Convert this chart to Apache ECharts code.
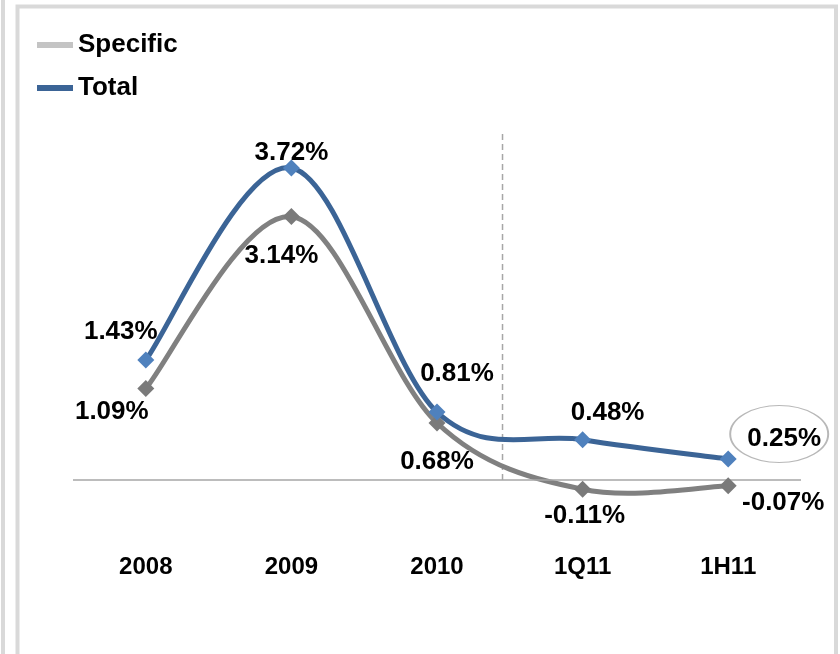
<!DOCTYPE html>
<html>
<head>
<meta charset="utf-8">
<script src="https://cdn.jsdelivr.net/npm/echarts@6/dist/echarts.min.js"></script>
<style>
  html, body { margin: 0; padding: 0; background: #ffffff; }
  #chart { width: 840px; height: 654px; }
</style>
</head>
<body>
<div id="chart"></div>
<script>
// Periods and ratios (%)
const categories = ['2008', '2009', '2010', '1Q11', '1H11'];
const specificValues = [1.09, 3.14, 0.68, -0.11, -0.07];
const totalValues = [1.43, 3.72, 0.81, 0.48, 0.25];

// Divider between annual and 2011 periods: category position and top value
const dividerPosition = 2.45;
const dividerTop = 4.14;

// Label offsets (px) from each marker, kept apart from the values
const specificLabelOffsets = [[-34, 23], [-10, 39], [0, 39], [2, 27], [55, 17]];
const totalLabelOffsets = [[-25, -28], [0, -15], [20, -38], [25, -27], [56, -20]];

const TOTAL_LINE = '#3b6496';
const TOTAL_MARK = '#4f81bd';
const SPEC_LINE = '#808080';
const SPEC_MARK = '#7a7a7a';
const SPEC_LEGEND = '#c4c4c4';
const FONT = "'Liberation Sans', Arial, sans-serif";

function pct(v) { return v.toFixed(2) + '%'; }

function buildData(values, offsets) {
  return values.map(function (v, i) {
    return { value: v, label: { offset: offsets[i] } };
  });
}

// Smoothed curve segment (cardinal spline, tension 1/6) between point i and i+1
function splineRenderer(values, color) {
  return function (params, api) {
    const i = params.dataIndex;
    const n = values.length;
    if (i >= n - 1) return null;
    const pt = function (k) {
      k = Math.max(0, Math.min(n - 1, k));
      return api.coord([k, values[k]]);
    };
    const p0 = pt(i - 1), p1 = pt(i), p2 = pt(i + 1), p3 = pt(i + 2);
    const t = 1 / 6;
    return {
      type: 'bezierCurve',
      shape: {
        x1: p1[0], y1: p1[1],
        x2: p2[0], y2: p2[1],
        cpx1: p1[0] + (p2[0] - p0[0]) * t,
        cpy1: p1[1] + (p2[1] - p0[1]) * t,
        cpx2: p2[0] - (p3[0] - p1[0]) * t,
        cpy2: p2[1] - (p3[1] - p1[1]) * t
      },
      style: { stroke: color, lineWidth: 5, fill: null, lineCap: 'round' },
      silent: true
    };
  };
}

const labelStyle = {
  show: true,
  position: 'inside',
  align: 'center',
  verticalAlign: 'middle',
  fontFamily: FONT,
  fontWeight: 'bold',
  fontSize: 26,
  color: '#000000',
  formatter: function (p) { return pct(p.value); }
};

const chart = echarts.init(document.getElementById('chart'), null, { renderer: 'canvas' });

chart.setOption({
  backgroundColor: '#ffffff',
  animation: false,
  graphic: [
    // panel frame
    { type: 'line', shape: { x1: 3, y1: 0, x2: 3, y2: 654 }, style: { stroke: '#d9d9d9', lineWidth: 4 }, silent: true },
    { type: 'rect', shape: { x: 17.5, y: 6.5, width: 818.5, height: 700 }, style: { fill: null, stroke: '#d9d9d9', lineWidth: 4 }, silent: true }
  ],
  legend: {
    orient: 'vertical',
    left: 32,
    top: 27,
    itemWidth: 36,
    itemHeight: 6,
    itemGap: 17,
    icon: 'rect',
    textStyle: { fontFamily: FONT, fontWeight: 'bold', fontSize: 26, color: '#000000' },
    data: [
      { name: 'Specific', itemStyle: { color: SPEC_LEGEND } },
      { name: 'Total', itemStyle: { color: TOTAL_LINE } }
    ]
  },
  grid: { left: 73, right: 39, top: 102.5, bottom: 102.7 },
  xAxis: {
    type: 'category',
    data: categories,
    boundaryGap: true,
    axisLine: { show: false },
    axisTick: { show: false },
    splitLine: { show: false },
    axisLabel: {
      margin: 4,
      fontFamily: FONT,
      fontWeight: 'bold',
      fontSize: 24,
      color: '#000000'
    }
  },
  yAxis: {
    type: 'value',
    min: -0.85,
    max: 4.5,
    show: false,
    splitLine: { show: false }
  },
  series: [
    {
      name: 'divider',
      type: 'custom',
      silent: true,
      z: 1,
      data: [dividerPosition],
      renderItem: function (params, api) {
        const lo = Math.floor(dividerPosition), f = dividerPosition - lo;
        const a = api.coord([lo, 0]), b = api.coord([lo + 1, 0]);
        const top = api.coord([lo, dividerTop]);
        const x = a[0] + (b[0] - a[0]) * f;
        return {
          type: 'line',
          shape: { x1: x, y1: a[1], x2: x, y2: top[1] },
          style: { stroke: '#a6a6a6', lineWidth: 1.5, lineDash: [6, 4] }
        };
      }
    },
    {
      name: 'Specific curve',
      type: 'custom',
      z: 3,
      data: specificValues,
      renderItem: splineRenderer(specificValues, SPEC_LINE)
    },
    {
      name: 'Total curve',
      type: 'custom',
      z: 4,
      data: totalValues,
      renderItem: splineRenderer(totalValues, TOTAL_LINE)
    },
    {
      name: 'Specific',
      type: 'line',
      data: buildData(specificValues, specificLabelOffsets),
      symbol: 'diamond',
      symbolSize: 17,
      z: 5,
      lineStyle: { color: SPEC_LINE, width: 0, opacity: 0 },
      itemStyle: { color: SPEC_MARK },
      label: labelStyle,
      markLine: {
        silent: true,
        symbol: 'none',
        label: { show: false },
        lineStyle: { color: '#a6a6a6', width: 1.5, type: 'solid' },
        data: [{ yAxis: 0 }]
      }
    },
    {
      name: 'Total',
      type: 'line',
      data: buildData(totalValues, totalLabelOffsets),
      symbol: 'diamond',
      symbolSize: 17,
      z: 6,
      lineStyle: { color: TOTAL_LINE, width: 0, opacity: 0 },
      itemStyle: { color: TOTAL_MARK },
      label: labelStyle,
      markPoint: {
        silent: true,
        symbol: 'circle',
        symbolSize: [98, 57],
        symbolOffset: [51, -25],
        label: { show: false },
        itemStyle: { color: 'rgba(0,0,0,0)', borderColor: '#b8b8b8', borderWidth: 1.5 },
        data: [{ coord: [4, totalValues[4]] }]
      }
    }
  ]
});
</script>
</body>
</html>
